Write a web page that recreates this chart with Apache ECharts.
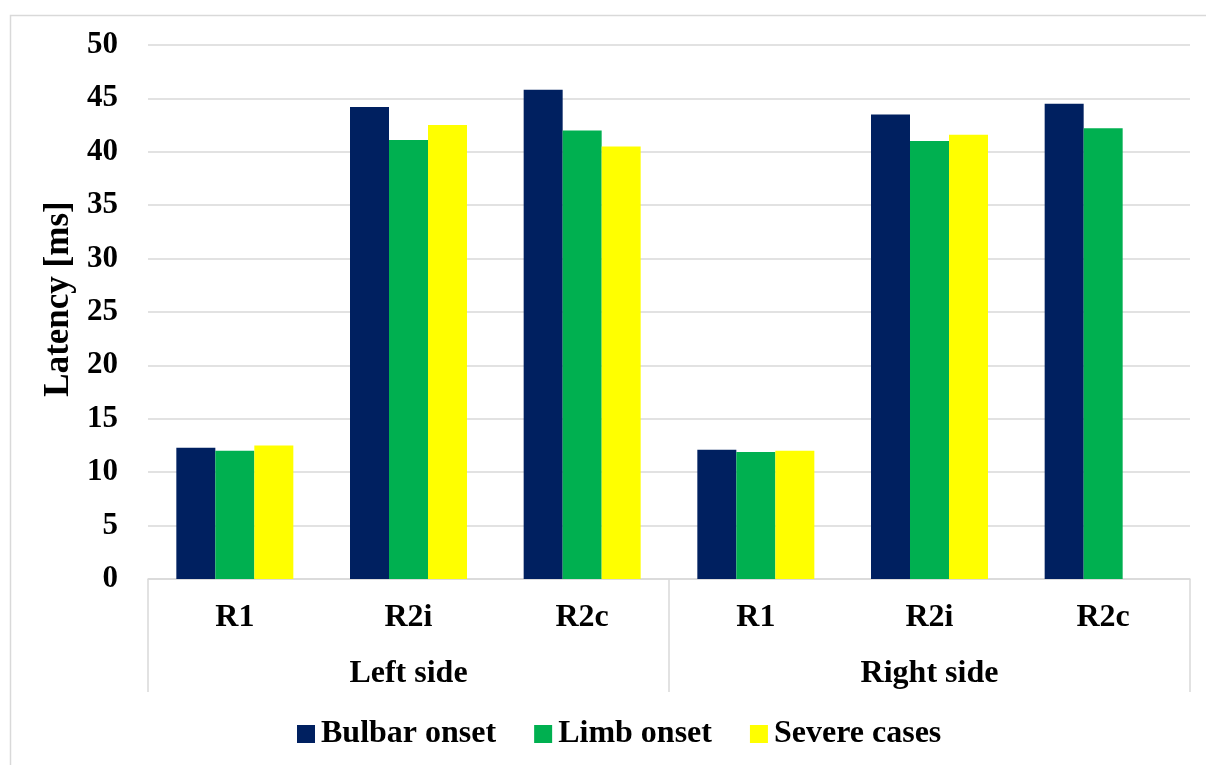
<!DOCTYPE html>
<html>
<head>
<meta charset="utf-8">
<script src="https://cdn.jsdelivr.net/npm/echarts@6/dist/echarts.min.js"></script>
<style>html,body{margin:0;padding:0;background:#fff}#c{width:1206px;height:765px}</style>
</head>
<body>
<div id="c"></div>
<script>
const categories = ['R1', 'R2i', 'R2c', 'R1', 'R2i', 'R2c'];
const groups = ['Left side', 'Right side'];
const seriesNames = ['Bulbar onset', 'Limb onset', 'Severe cases'];
const bulbar = [12.3, 44.2, 45.8, 12.1, 43.5, 44.5];
const limb = [12.0, 41.1, 42.0, 11.9, 41.0, 42.2];
const severe = [12.5, 42.5, 40.5, 12.0, 41.6, null];
const yTicks = { min: 0, max: 50, interval: 5 };

const FONT = '"Liberation Serif", "Times New Roman", serif';
const GRID = '#d9d9d9';
const chart = echarts.init(document.getElementById('c'), null, { renderer: 'canvas' });
const colors = ['#002060', '#00B050', '#FFFF00'];
const mk = (name, data, i) => ({
  name, type: 'bar', data, xAxisIndex: 0, yAxisIndex: 0,
  barWidth: 39, barGap: '0%', barCategoryGap: '0%',
  itemStyle: { color: colors[i] }, emphasis: { disabled: true }
});
chart.setOption({
  animation: false,
  backgroundColor: '#fff',
  textStyle: { fontFamily: FONT, color: '#000' },
  graphic: [{
    type: 'rect', left: 8, top: 13, z: -10,
    shape: { width: 1300, height: 900 },
    style: { fill: 'none', stroke: GRID, lineWidth: 1.5 }
  }],
  grid: { left: 148, right: 16, top: 45, bottom: 186, containLabel: false },
  legend: {
    data: seriesNames, left: 292, top: 713,
    itemWidth: 18, itemHeight: 18, itemGap: 38,
    textStyle: { fontFamily: FONT, fontWeight: 'bold', fontSize: 32, color: '#000', padding: [0, 0, 0, 1] },
    icon: 'rect'
  },
  xAxis: [{
    type: 'category', data: categories, position: 'bottom',
    axisLine: { show: true, lineStyle: { color: GRID, width: 1.5 } },
    axisTick: { show: false },
    axisLabel: { fontFamily: FONT, fontWeight: 'bold', fontSize: 32, color: '#000', margin: 23, interval: 0 }
  }, {
    type: 'category', data: groups, position: 'bottom',
    gridIndex: 0,
    axisLine: { show: false },
    axisTick: { show: true, interval: 0, length: 113, lineStyle: { color: GRID, width: 1.5 } },
    axisLabel: { fontFamily: FONT, fontWeight: 'bold', fontSize: 32, color: '#000', margin: 79, interval: 0 }
  }],
  yAxis: {
    type: 'value', min: yTicks.min, max: yTicks.max, interval: yTicks.interval,
    name: 'Latency [ms]', nameLocation: 'middle', nameGap: 69, nameRotate: 90,
    nameTextStyle: { fontFamily: FONT, fontWeight: 'bold', fontSize: 35, color: '#000', padding: [0, 0, 0, 26] },
    axisLine: { show: false }, axisTick: { show: false },
    axisLabel: { fontFamily: FONT, fontWeight: 'bold', fontSize: 31, color: '#000', margin: 30 },
    splitLine: { show: true, lineStyle: { color: GRID, width: 1.5 } }
  },
  series: [mk(seriesNames[0], bulbar, 0), mk(seriesNames[1], limb, 1), mk(seriesNames[2], severe, 2)]
});
</script>
</body>
</html>
